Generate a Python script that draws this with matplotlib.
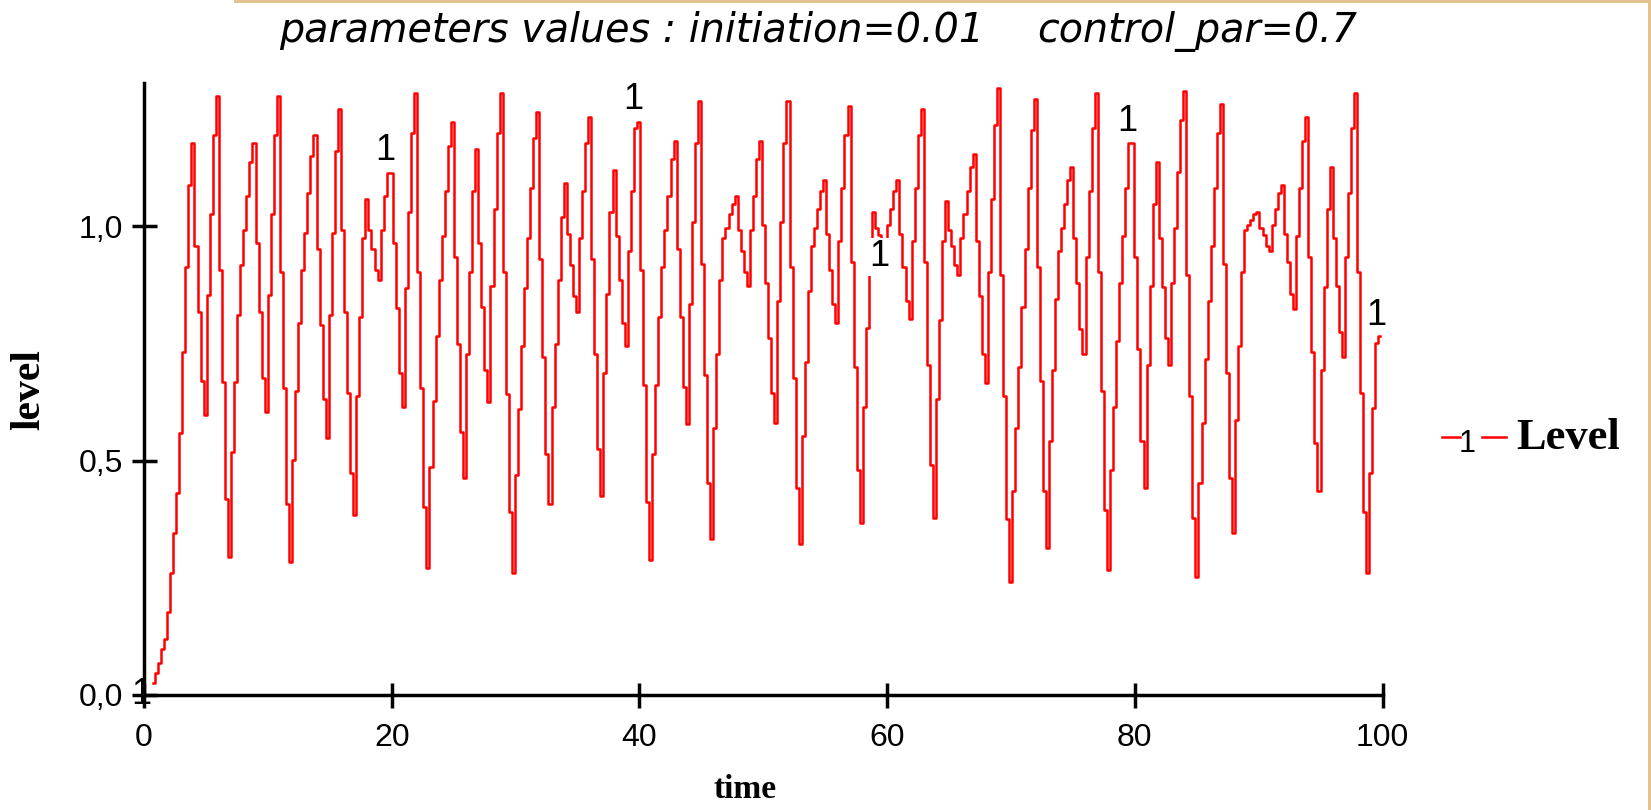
import numpy as np
import matplotlib.pyplot as plt
from matplotlib.lines import Line2D
from matplotlib.patches import Rectangle

# === Data: Level, one value per plotted step ===
level_a = [
    0.026, 0.047, 0.069, 0.099, 0.12, 0.177, 0.26, 0.346, 0.43, 0.559,
    0.731, 0.913, 1.087, 1.177, 0.958, 0.817, 0.67, 0.597, 0.854, 1.026,
    1.194, 1.277, 0.907, 0.667, 0.418, 0.295, 0.518, 0.667, 0.81, 0.917,
    0.991, 1.063, 1.136, 1.177, 0.964, 0.817, 0.677, 0.604, 0.854, 1.026,
    1.194, 1.277, 0.901, 0.654, 0.407, 0.284, 0.501, 0.649, 0.793, 0.907,
    0.985, 1.071, 1.15, 1.194, 0.951, 0.788, 0.632, 0.548, 0.81, 0.985,
    1.159, 1.249, 0.991, 0.817, 0.643, 0.474, 0.384, 0.637, 0.805, 0.974,
    1.057, 0.992, 0.951, 0.907, 0.885, 0.992, 1.063, 1.114, 1.114, 0.964,
]
level_b = [
    0.825, 0.687, 0.614, 0.867, 1.03, 1.198, 1.284, 0.902, 0.654, 0.401,
    0.27, 0.487, 0.626, 0.765, 0.885, 0.979, 1.075, 1.171, 1.221, 0.934,
    0.748, 0.56, 0.463, 0.727, 0.901, 1.075, 1.164, 0.964, 0.828, 0.694,
    0.625, 0.872, 1.036, 1.198, 1.283, 0.901, 0.642, 0.391, 0.261, 0.469,
    0.61, 0.744, 0.868, 0.974, 1.082, 1.188, 1.243, 0.93, 0.721, 0.514,
    0.407, 0.615, 0.748, 0.885, 1.02, 1.092, 0.984, 0.917, 0.851, 0.817,
    0.974, 1.075, 1.176, 1.233, 0.93, 0.727, 0.525, 0.424, 0.687, 0.855,
    1.029, 1.119, 0.979, 0.885, 0.794, 0.745, 0.947, 1.075, 1.208, 1.222,
]
level_c = [
    0.906, 0.66, 0.412, 0.288, 0.514, 0.66, 0.807, 0.913, 0.991, 1.064,
    1.143, 1.181, 0.951, 0.807, 0.656, 0.577, 0.834, 1.008, 1.178, 1.266,
    0.918, 0.682, 0.453, 0.333, 0.57, 0.727, 0.885, 0.974, 0.996, 1.025,
    1.047, 1.064, 0.991, 0.947, 0.903, 0.873, 0.991, 1.064, 1.143, 1.181,
    1.002, 0.879, 0.762, 0.643, 0.581, 0.841, 1.009, 1.178, 1.266, 0.913,
    0.677, 0.441, 0.323, 0.552, 0.711, 0.861, 0.958, 0.996, 1.036, 1.075,
    1.098, 0.984, 0.906, 0.834, 0.794, 0.969, 1.082, 1.194, 1.256, 0.924,
    0.7, 0.48, 0.367, 0.615, 0.783, 0.947, 1.029, 0.995, 0.98, 0.96,
]
level_d = [
    0.97, 1.002, 1.036, 1.075, 1.098, 0.984, 0.913, 0.841, 0.801, 0.968,
    1.082, 1.194, 1.249, 0.924, 0.704, 0.49, 0.378, 0.631, 0.8, 0.968,
    1.053, 0.991, 0.958, 0.917, 0.896, 0.974, 1.026, 1.075, 1.125, 1.153,
    0.968, 0.851, 0.727, 0.666, 0.901, 1.058, 1.215, 1.295, 0.896, 0.638,
    0.375, 0.24, 0.435, 0.57, 0.7, 0.828, 0.951, 1.082, 1.205, 1.271,
    0.913, 0.67, 0.435, 0.313, 0.542, 0.693, 0.844, 0.947, 0.996, 1.047,
    1.098, 1.125, 0.975, 0.879, 0.78, 0.727, 0.935, 1.075, 1.208, 1.283,
    0.901, 0.649, 0.394, 0.267, 0.48, 0.615, 0.755, 0.879, 0.979, 1.082,
]
level_e = [
    1.178, 1.178, 0.935, 0.738, 0.542, 0.441, 0.704, 0.872, 1.047, 1.137,
    0.975, 0.869, 0.762, 0.704, 0.879, 0.996, 1.116, 1.226, 1.288, 0.896,
    0.638, 0.378, 0.251, 0.453, 0.581, 0.716, 0.841, 0.958, 1.082, 1.199,
    1.26, 0.918, 0.687, 0.463, 0.346, 0.586, 0.744, 0.903, 0.991, 1.002,
    1.013, 1.025, 1.029, 0.996, 0.98, 0.958, 0.947, 1.002, 1.036, 1.07,
    1.087, 0.984, 0.924, 0.856, 0.823, 0.979, 1.082, 1.181, 1.233, 0.935,
    0.732, 0.537, 0.436, 0.694, 0.869, 1.036, 1.125, 0.975, 0.873, 0.773,
    0.721, 0.935, 1.07, 1.208, 1.283, 0.901, 0.643, 0.391, 0.261, 0.474,
    0.611, 0.75, 0.766,
]
T_START, T_END = 0.75, 99.8

# "1" curve markers (time, level where the tag sits)
marker_t = [-0.25, 19.5, 39.5, 59.35, 79.4, 99.5]
marker_v = [0.0, 1.16, 1.269, 0.934, 1.222, 0.81]

x_ticks = [0, 20, 40, 60, 80, 100]
y_ticks = [0.0, 0.5, 1.0]
y_labels = ["0,0", "0,5", "1,0"]

level = np.array(level_a + level_b + level_c + level_d + level_e)
t = np.linspace(T_START, T_END, len(level))

W, H = 1651, 810
fig = plt.figure(figsize=(W / 100, H / 100), dpi=100)
fig.patch.set_facecolor("white")

# tan frame remnants at top and right edge
fig.patches.append(Rectangle((234 / W, 1 - 3 / H), 1, 3 / H, transform=fig.transFigure,
                             color="#e3c38d", lw=0))
fig.patches.append(Rectangle((1 - 3 / W, 0), 3 / W, 1, transform=fig.transFigure,
                             color="#e3c38d", lw=0))

ax = fig.add_axes([144 / W, 1 - 695 / H, (1382.5 - 144) / W, (695 - 83) / H])
ax.plot(t, level, color="#ff0000", lw=1.8, drawstyle="steps-mid")

for mt, mv in zip(marker_t, marker_v):
    ax.text(mt, mv, "1", ha="center", va="center", fontsize=26,
            family="Liberation Sans", color="black", clip_on=False, zorder=5,
            bbox=None if mt < 0 else dict(facecolor="white", edgecolor="none", pad=1))

ax.set_xlim(0, 100)
ax.set_ylim(0, 1.305)
ax.set_xticks(x_ticks)
ax.set_yticks(y_ticks)
ax.set_yticklabels(y_labels)
for s in ["top", "right"]:
    ax.spines[s].set_visible(False)
for s in ["left", "bottom"]:
    ax.spines[s].set_linewidth(2.5)
ax.tick_params(direction="inout", length=18, width=2.5, labelsize=23)
ax.tick_params(axis="x", pad=11)
ax.tick_params(axis="y", pad=6)
for lab in ax.get_xticklabels() + ax.get_yticklabels():
    lab.set_family("Liberation Sans")

# axis titles
fig.text(745 / W, 1 - 790 / H, "time", ha="center", va="center",
         family="Liberation Serif", fontweight="bold", fontsize=24)
fig.text(29 / W, 1 - 390 / H, "level", ha="center", va="center", rotation=90,
         family="Liberation Serif", fontweight="bold", fontsize=30)

# header
fig.text(279 / W, 1 - 42 / H, "parameters values : initiation=0.01",
         ha="left", va="baseline", family="DejaVu Sans", style="italic", fontsize=28.5)
fig.text(1037 / W, 1 - 42 / H, "control_par=0.7",
         ha="left", va="baseline", family="DejaVu Sans", style="italic", fontsize=28.5)

# legend entry
fig.add_artist(Line2D([1442 / W, 1460 / W], [1 - 437 / H] * 2, color="#ff0000", lw=1.8,
                      transform=fig.transFigure))
fig.add_artist(Line2D([1482 / W, 1506 / W], [1 - 437 / H] * 2, color="#ff0000", lw=1.8,
                      transform=fig.transFigure))
fig.text(1467 / W, 1 - 444 / H, "1", ha="center", va="center", fontsize=22,
         family="Liberation Sans")
fig.text(1516 / W, 1 - 449 / H, "Level", ha="left", va="baseline",
         family="Liberation Serif", fontweight="bold", fontsize=32)

fig.savefig("out.png", dpi=100)
